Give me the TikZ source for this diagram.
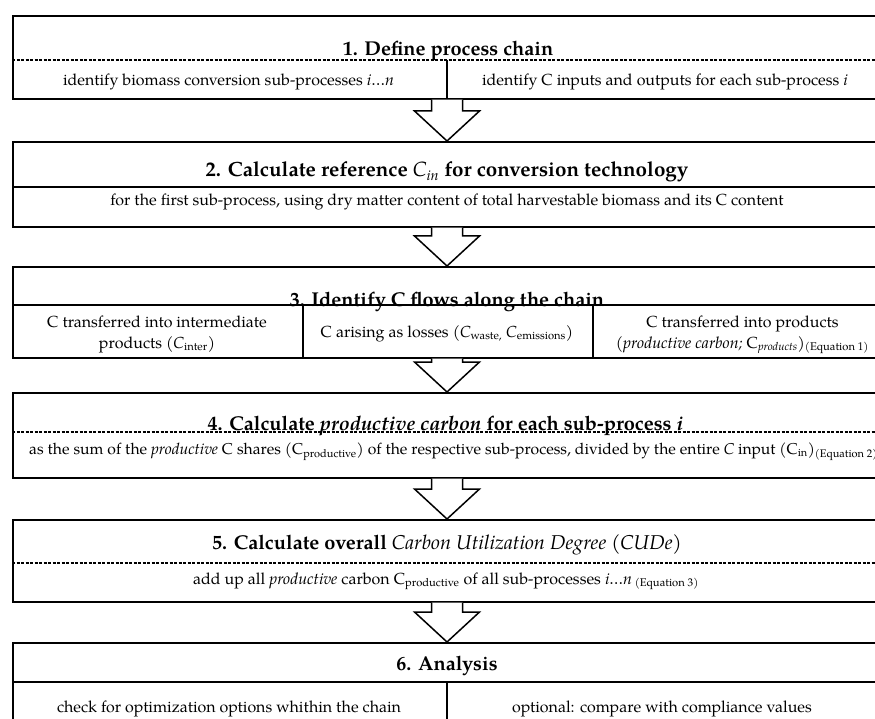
\documentclass[tikz,border=0pt]{standalone}
\usepackage{fontspec}
\setmainfont{TeX Gyre Pagella}
\usetikzlibrary{calc}
\newcommand\sbs[1]{\textsubscript{#1}}
\newcommand\blockarrow[2]{%
  \draw[blk] let \p1=(#1),\p2=(#2) in
    (\x1-15.5pt,\y1) -- (\x1-15.5pt,\y2+30pt) -- (\x1-32.5pt,\y2+30pt) -- (\x2,\y2)
    -- (\x1+32.5pt,\y2+30pt) -- (\x1+15.5pt,\y2+30pt) -- (\x1+15.5pt,\y1);}
\begin{document}
\begin{tikzpicture}[x=1pt,y=-1pt,
  box/.style={draw,line width=1.6pt,rectangle,anchor=north west,minimum width=900pt,inner sep=0pt},
  solidsep/.style={line width=1.1pt},
  dashsep/.style={line width=1.1pt,dash pattern=on 3pt off 1.5pt},
  ttl/.style={font=\fontsize{20}{22}\selectfont\bfseries,inner sep=0pt,anchor=base},
  txt/.style={font=\fontsize{16}{18}\selectfont,inner sep=0pt,anchor=base},
  blk/.style={draw,line width=1.5pt,fill=white,line join=miter}]
\useasboundingbox (0,0) rectangle (875,719);
\clip (0,0) rectangle (875,719);

% ---------- Box 1
\node[box,minimum height=83pt] (b1) at (12,15) {};
\coordinate (d1) at ($(b1.north west)+(0,45)$);
\draw[dashsep] (d1) -- ++(900,0);
\draw[solidsep] ($(d1)+(435,0)$) -- ($(b1.south west)+(435,0)$);
\node[ttl] (t1) at (448,56) {1. Define process chain};
\node[txt] (s1a) at (228.5,86) {identify biomass conversion sub-processes \textit{i…n}};
\node[txt] (s1b) at (665,86) {identify C inputs and outputs for each sub-process \textit{i}};

% ---------- Box 2
\node[box,minimum height=85pt] (b2) at (12,141) {};
\coordinate (d2) at ($(b2.north west)+(0,46)$);
\draw[solidsep] (d2) -- ++(900,0);
\node[ttl,font=\fontsize{20.6}{22}\selectfont\bfseries] (t2) at (447,177) {2. Calculate reference \textmd{\textit{C}\sbs{\textit{in}}} for conversion technology};
\node[txt] (s2) at (447,206) {for the first sub-process, using dry matter content of total harvestable biomass and its C content};

% ---------- Box 3
\node[box,minimum height=91pt] (b3) at (12,266) {};
\coordinate (d3) at ($(b3.north west)+(0,39)$);
\draw[solidsep] (d3) -- ++(900,0);
\draw[solidsep] ($(d3)+(291,0)$) -- ($(b3.south west)+(291,0)$);
\draw[solidsep] ($(d3)+(581,0)$) -- ($(b3.south west)+(581,0)$);
\node[ttl] (t3) at (447,306) {3. Identify C flows along the chain};
\node[txt] (s3a1) at (157,327) {C transferred into intermediate};
\node[txt] (s3a2) at (157,348) {products (\textit{C}\sbs{inter})};
\node[txt] (s3b) at (447,337) {C arising as losses (\textit{C}\sbs{waste,} \textit{C}\sbs{emissions})};
\node[txt] (s3c1) at (742.5,327) {C transferred into products};
\node[txt] (s3c2) at (742.5,348) {(\textit{productive carbon;} C\sbs{\textit{products}})\sbs{(Equation 1)}};

% ---------- Box 4
\node[box,minimum height=85pt] (b4) at (12,392) {};
\coordinate (d4) at ($(b4.north west)+(0,40)$);
\draw[dashsep] (d4) -- ++(900,0);
\node[ttl] (t4) at (445.5,430) {4. Calculate \textit{productive carbon} for each sub-process \textit{i}};
\node[txt,font=\fontsize{15.7}{18}\selectfont,anchor=base west] (s4) at (29,454) {as the sum of the \textit{productive} C shares (C\sbs{productive}) of the respective sub-process, divided by the entire \textit{C} input (C\sbs{in})\sbs{(Equation 2)}};

% ---------- Box 5
\node[box,minimum height=82pt] (b5) at (12,519) {};
\coordinate (d5) at ($(b5.north west)+(0,44)$);
\draw[dashsep] (d5) -- ++(900,0);
\node[ttl] (t5) at (447,549) {5. Calculate overall \textmd{\textit{Carbon Utilization Degree (CUDe)}}};
\node[txt] (s5) at (446,584) {add up all \textit{productive} carbon C\sbs{productive} of all sub-processes \textit{i…n}\,\sbs{(Equation 3)}};

% ---------- Box 6
\node[box,minimum height=100pt] (b6) at (12,642) {};
\coordinate (d6) at ($(b6.north west)+(0,40)$);
\draw[solidsep] (d6) -- ++(900,0);
\draw[solidsep] ($(d6)+(435,0)$) -- ($(b6.south west)+(435,0)$);
\node[ttl] (t6) at (447,670) {6. Analysis};
\node[txt] (s6a) at (229,712) {check for optimization options whithin the chain};
\node[txt] (s6b) at (662,712) {optional: compare with compliance values};

% ---------- block arrows
\coordinate (a1s) at ($(b1.south west)+(435,0)$);
\coordinate (a1e) at ($(b2.north west)+(435,0)$);
\coordinate (a2s) at ($(b2.south west)+(435,0)$);
\coordinate (a2e) at ($(b3.north west)+(435,0)$);
\coordinate (a3s) at ($(b3.south west)+(435,0)$);
\coordinate (a3e) at ($(b4.north west)+(435,0)$);
\coordinate (a4s) at ($(b4.south west)+(435,0)$);
\coordinate (a4e) at ($(b5.north west)+(435,0)$);
\coordinate (a5s) at ($(b5.south west)+(435,0)$);
\coordinate (a5e) at ($(b6.north west)+(435,0)$);
\blockarrow{a1s}{a1e}
\blockarrow{a2s}{a2e}
\blockarrow{a3s}{a3e}
\blockarrow{a4s}{a4e}
\blockarrow{a5s}{a5e}
\end{tikzpicture}
\end{document}
